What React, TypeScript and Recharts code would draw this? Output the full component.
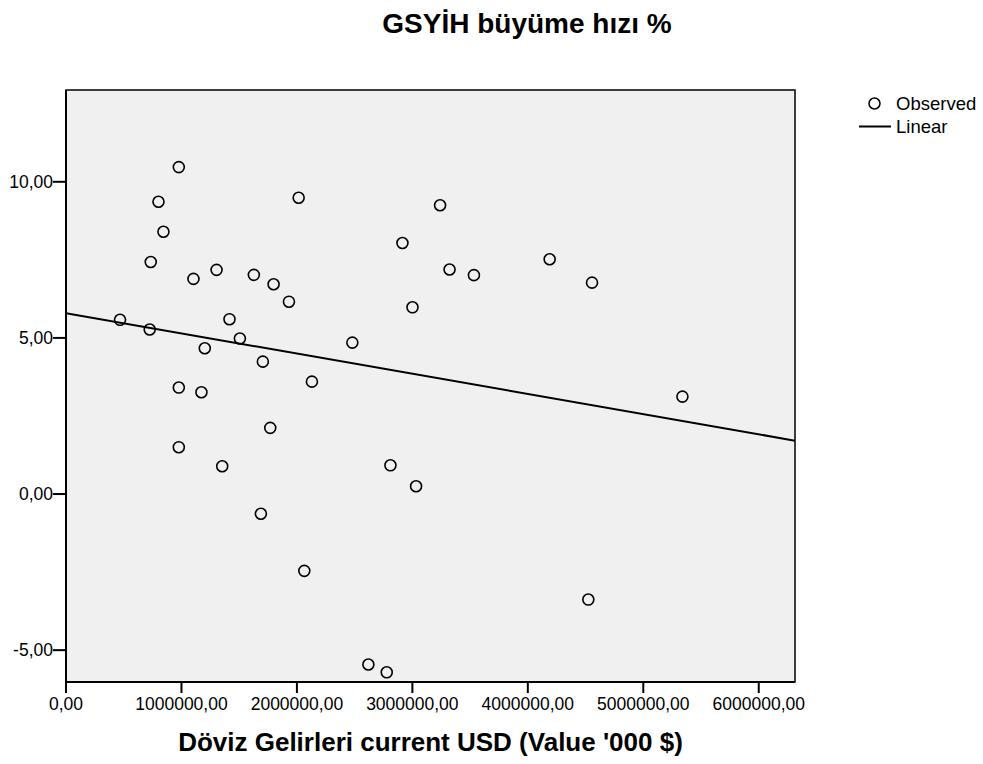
import React from "react";
import { ScatterChart, Scatter, XAxis, YAxis, ReferenceArea, Legend } from "recharts";

// Observed points (x = döviz gelirleri, '000 $; y = GSYİH büyüme hızı %)
const OBS_X = [
  468000, 725000, 734000, 801000, 844000, 977000, 977000, 977000, 1104000, 1173000,
  1202000, 1304000, 1353000, 1416000, 1506000, 1627000, 1688000, 1705000, 1769000, 1798000,
  1931000, 2015000, 2064000, 2130000, 2480000, 2619000, 2778000, 2810000, 2914000, 3001000,
  3032000, 3240000, 3322000, 3533000, 4189000, 4524000, 4556000, 5339000,
];
const OBS_Y = [
  5.58, 5.27, 7.43, 9.36, 8.4, 10.47, 3.41, 1.5, 6.89, 3.26,
  4.67, 7.18, 0.89, 5.6, 4.98, 7.02, -0.63, 4.24, 2.12, 6.72,
  6.16, 9.49, -2.46, 3.6, 4.85, -5.46, -5.71, 0.92, 8.04, 5.98,
  0.25, 9.25, 7.19, 7.01, 7.52, -3.38, 6.77, 3.12,
];

// Linear fit, read at the two ends of the plot
const FIT_X = [0, 6314000];
const FIT_Y = [5.79, 1.71];

const X_TICKS = [0, 1000000, 2000000, 3000000, 4000000, 5000000, 6000000];
const Y_TICKS = [-5, 0, 5, 10];
const X_DOMAIN: [number, number] = [0, 6314000];
const Y_DOMAIN: [number, number] = [-6.02, 12.94];

const TITLE = "GSYİH büyüme hızı %";
const X_LABEL = "Döviz Gelirleri current USD (Value '000 $)";
const LEGEND_LABELS = ["Observed", "Linear"];

const FONT = '"Liberation Sans", Arial, Helvetica, sans-serif';

const observed = OBS_X.map((x, i) => ({ x, y: OBS_Y[i] }));
const fit = FIT_X.map((x, i) => ({ x, y: FIT_Y[i] }));

const fmt = (v: number) => v.toFixed(2).replace(".", ",");

const RingDot = (p: any) => (
  <circle cx={p.cx} cy={p.cy} r={5.5} fill="none" stroke="#000" strokeWidth={1.6} />
);

function LegendBox() {
  return (
    <div style={{ fontSize: 18.5, lineHeight: "23px", color: "#000", fontFamily: FONT }}>
      <div style={{ display: "flex", alignItems: "center", height: 23 }}>
        <svg width={36} height={23}>
          <circle cx={19.5} cy={11.5} r={5.5} fill="none" stroke="#000" strokeWidth={1.5} />
        </svg>
        <span style={{ marginLeft: 5 }}>{LEGEND_LABELS[0]}</span>
      </div>
      <div style={{ display: "flex", alignItems: "center", height: 23 }}>
        <svg width={36} height={23}>
          <line x1={4} y1={11.5} x2={36} y2={11.5} stroke="#000" strokeWidth={2} />
        </svg>
        <span style={{ marginLeft: 5 }}>{LEGEND_LABELS[1]}</span>
      </div>
    </div>
  );
}

export default function App() {
  return (
    <div
      style={{
        position: "absolute",
        left: 0,
        top: 0,
        width: 983,
        height: 764,
        background: "#fff",
        fontFamily: FONT,
      }}
    >
      {/* Title */}
      <div
        style={{
          position: "absolute",
          left: 327,
          top: 8,
          width: 400,
          textAlign: "center",
          fontSize: 28,
          lineHeight: "32px",
          fontWeight: "bold",
          color: "#000",
        }}
      >
        {TITLE}
      </div>

      <ScatterChart
        width={983}
        height={764}
        margin={{ top: 90, right: 188, bottom: 42, left: 0 }}
        style={{ fontFamily: FONT }}
      >
        <ReferenceArea
          x1={X_DOMAIN[0]}
          x2={X_DOMAIN[1]}
          y1={Y_DOMAIN[0]}
          y2={Y_DOMAIN[1]}
          fill="#f0f0f0"
          fillOpacity={1}
          stroke="#000"
          strokeWidth={1.5}
        />
        <XAxis
          type="number"
          dataKey="x"
          domain={X_DOMAIN}
          ticks={X_TICKS}
          allowDataOverflow
          height={40}
          tickSize={11}
          tickMargin={5}
          tickFormatter={fmt}
          axisLine={{ stroke: "#000", strokeWidth: 2 }}
          tickLine={{ stroke: "#000", strokeWidth: 2 }}
          tick={{ fill: "#000", fontSize: 17.5 }}
          interval={0}
          label={{
            value: X_LABEL,
            position: "bottom",
            offset: 11,
            fontSize: 26,
            fontWeight: "bold",
            fill: "#000",
          }}
        />
        <YAxis
          type="number"
          dataKey="y"
          domain={Y_DOMAIN}
          ticks={Y_TICKS}
          allowDataOverflow
          width={66}
          tickSize={13}
          tickMargin={0}
          tickFormatter={fmt}
          axisLine={{ stroke: "#000", strokeWidth: 2 }}
          tickLine={{ stroke: "#000", strokeWidth: 2 }}
          tick={{ fill: "#000", fontSize: 17.5 }}
          interval={0}
        />
        <Scatter
          name="Linear"
          data={fit}
          line={{ stroke: "#000", strokeWidth: 2 }}
          shape={() => <g />}
          isAnimationActive={false}
        />
        <Scatter name="Observed" data={observed} shape={RingDot} isAnimationActive={false} />
        <Legend
          layout="horizontal"
          verticalAlign="middle"
          align="center"
          wrapperStyle={{ position: "absolute", left: 855, top: 92, width: 128 }}
          content={() => <LegendBox />}
        />
      </ScatterChart>
    </div>
  );
}
